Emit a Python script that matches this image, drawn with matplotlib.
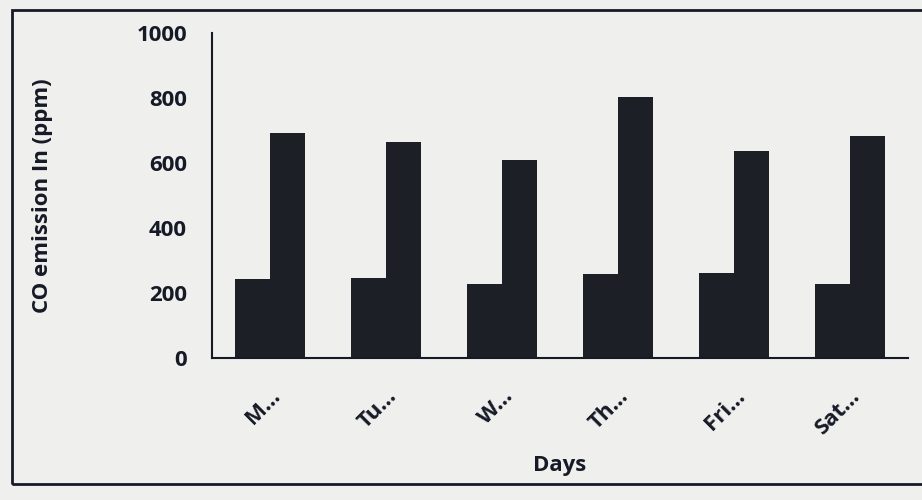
import matplotlib.pyplot as plt
import numpy as np
from matplotlib.patches import Rectangle

days = ['M...', 'Tu...', 'W...', 'Th...', 'Fri...', 'Sat...']
low_values = [243, 246, 228, 258, 261, 228]
high_values = [692, 665, 609, 803, 637, 683]
y_ticks = [0, 200, 400, 600, 800, 1000]

bg = '#efefed'
bar_color = '#1d1f27'
ink = '#161a26'

plt.rcParams['font.family'] = ['Open Sans', 'DejaVu Sans']
plt.rcParams['font.weight'] = 'bold'

fig = plt.figure(figsize=(9.22, 5), dpi=100, facecolor=bg)
ax = fig.add_axes([0.23, 0.284, 0.755, 0.65], facecolor=bg)

x = np.arange(len(days))
w = 0.3
ax.bar(x - w / 2, low_values, width=w, color=bar_color)
ax.bar(x + w / 2, high_values, width=w, color=bar_color)

ax.set_xlim(-0.5, len(days) - 0.5)
ax.set_ylim(0, 1000)
ax.set_yticks(y_ticks)
ax.set_xticks(x)
ax.set_xticklabels(days, rotation=45, ha='right', rotation_mode='anchor')
ax.tick_params(length=0, labelsize=16, colors=ink)
ax.tick_params(axis='y', pad=18)
ax.tick_params(axis='x', pad=20)
for s in ['top', 'right']:
    ax.spines[s].set_visible(False)
for s in ['left', 'bottom']:
    ax.spines[s].set_color(ink)
    ax.spines[s].set_linewidth(1.5)

ax.set_ylabel('CO emission In (ppm)', fontsize=16, fontweight='bold',
              color=ink, labelpad=60)
ax.set_xlabel('Days', fontsize=16, fontweight='bold', color=ink,
              labelpad=12)

# outer chart border
fig.patches.append(Rectangle((12 / 922, 1 - 484 / 500), 1.0, 474 / 500,
                             transform=fig.transFigure, fill=False,
                             edgecolor=ink, linewidth=2))

fig.savefig('out.png', dpi=100, facecolor=bg)
